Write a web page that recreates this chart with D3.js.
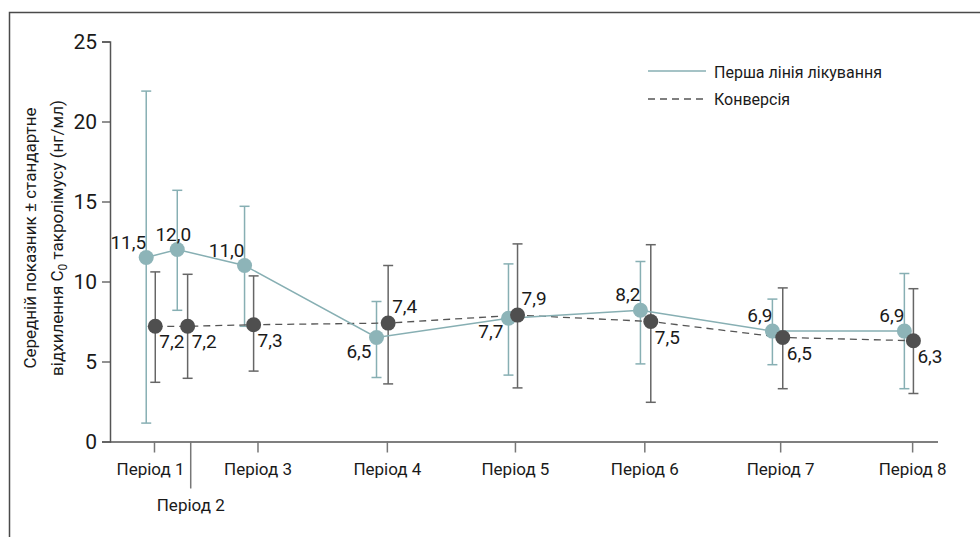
<!DOCTYPE html>
<html>
<head>
<meta charset="utf-8">
<script src="https://cdn.jsdelivr.net/npm/d3@7"></script>
<style>
  html, body { margin: 0; padding: 0; background: #fff; }
  svg { display: block; font-family: Roboto, "Noto Sans", sans-serif; }
</style>
</head>
<body>
<svg id="chart" width="980" height="537"></svg>
<script>
// Periods and their position on the time axis
const periods = ["Період 1", "Період 2", "Період 3", "Період 4", "Період 5", "Період 6", "Період 7", "Період 8"];
const periodTime = [0.34, 0.62, 1.14, 2.14, 3.13, 4.13, 5.18, 6.20];

// Перша лінія лікування: mean and ± SD bounds
const firstLineTime  = [0.28, 0.52, 1.04, 2.06, 3.08, 4.10, 5.12, 6.14];
const firstLineMean  = [11.5, 12.0, 11.0, 6.5, 7.7, 8.2, 6.9, 6.9];
const firstLineUpper = [21.9, 15.7, 14.7, 8.75, 11.1, 11.25, 8.9, 10.5];
const firstLineLower = [1.15, 8.2, 7.2, 4.0, 4.15, 4.85, 4.8, 3.3];

// Конверсія: mean and ± SD bounds
const conversionTime  = [0.35, 0.60, 1.11, 2.15, 3.15, 4.18, 5.20, 6.21];
const conversionMean  = [7.2, 7.2, 7.3, 7.4, 7.9, 7.5, 6.5, 6.3];
const conversionUpper = [10.6, 10.45, 10.35, 11.0, 12.35, 12.3, 9.6, 9.55];
const conversionLower = [3.7, 3.95, 4.4, 3.6, 3.35, 2.45, 3.3, 3.0];

const yTicks = [0, 5, 10, 15, 20, 25];

// which side of the marker each value label sits on
const firstLineLabelSide  = ["up", "upmid", "up", "down", "down", "up", "up", "up"];
const conversionLabelSide = ["down", "down", "down", "up", "up", "down", "down", "down"];

const TEAL = "#87afb3";
const TEAL_DOT = "#8db4b8";
const DARK = "#4f4f4f";
const DARK_BAR = "#666666";
const AXIS = "#555555";
const INK = "#1a1a1a";

const svg = d3.select("#chart");

// outer frame (top and left edges)
svg.append("path")
  .attr("d", "M9.5,537 V12.5 H980")
  .attr("fill", "none")
  .attr("stroke", "#4a4a4a")
  .attr("stroke-width", 1.5);

const x = d3.scaleLinear().domain([0, 6.4]).range([110, 938]);
const y = d3.scaleLinear().domain([0, 25]).range([441.5, 41.5]);

const fmt = v => d3.format(".1f")(v).replace(".", ",");

// Y axis
const yAxis = svg.append("g")
  .attr("transform", `translate(${x(0)},0)`)
  .call(d3.axisLeft(y).tickValues(yTicks).tickSize(8).tickPadding(5).tickFormat(d3.format("d")));
yAxis.select(".domain").attr("stroke", AXIS).attr("stroke-width", 1.5);
yAxis.selectAll(".tick line").attr("stroke", AXIS).attr("stroke-width", 1.3);
yAxis.selectAll(".tick text")
  .attr("fill", INK)
  .style("font-size", "21px")
  .style("font-family", "Roboto, sans-serif");

// X axis
const xAxis = svg.append("g")
  .attr("transform", `translate(0,${y(0)})`)
  .call(d3.axisBottom(x).tickValues(periodTime).tickSize(11).tickPadding(10)
    .tickFormat((d, i) => periods[i]));
xAxis.select(".domain").attr("d", `M${x(0)},0.5H${x(6.4)}`).attr("stroke", AXIS).attr("stroke-width", 1.5);
xAxis.selectAll(".tick line").attr("stroke", "#777").attr("stroke-width", 1.5)
  .attr("y2", (d, i) => i === 1 ? 47 : 11);
xAxis.selectAll(".tick text")
  .attr("fill", INK)
  .style("font-size", "17px")
  .style("font-family", "Roboto, sans-serif")
  .attr("dx", (d, i) => i === 0 ? -4 : 0)
  .attr("y", (d, i) => i === 1 ? 57 : 21);

// Y axis title
const yTitle = svg.append("text")
  .attr("transform", "translate(0,238) rotate(-90)")
  .attr("text-anchor", "middle")
  .attr("fill", INK)
  .style("font-size", "17px");
yTitle.append("tspan").attr("x", 0).attr("y", 36).text("Середній показник ± стандартне");
const l2 = yTitle.append("tspan").attr("x", 0).attr("y", 63);
l2.append("tspan").text("відхилення C");
l2.append("tspan").attr("font-size", "12px").attr("dy", 4).text("0");
l2.append("tspan").attr("dy", -4).text(" такролімусу (нг/мл)");

// series data rows
const firstLine = firstLineMean.map((m, i) => ({
  t: firstLineTime[i], m, hi: firstLineUpper[i], lo: firstLineLower[i], side: firstLineLabelSide[i]
}));
const conversion = conversionMean.map((m, i) => ({
  t: conversionTime[i], m, hi: conversionUpper[i], lo: conversionLower[i], side: conversionLabelSide[i]
}));

function errorBars(data, color) {
  const g = svg.append("g").attr("stroke", color).attr("stroke-width", 1.5).attr("fill", "none");
  data.forEach(d => {
    const cx = x(d.t);
    g.append("line").attr("x1", cx).attr("x2", cx).attr("y1", y(d.hi)).attr("y2", y(d.lo));
    g.append("line").attr("x1", cx - 5).attr("x2", cx + 5).attr("y1", y(d.hi)).attr("y2", y(d.hi));
    g.append("line").attr("x1", cx - 5).attr("x2", cx + 5).attr("y1", y(d.lo)).attr("y2", y(d.lo));
  });
}

errorBars(firstLine, TEAL);
errorBars(conversion, DARK_BAR);

const line = d3.line().x(d => x(d.t)).y(d => y(d.m));

svg.append("path").datum(conversion)
  .attr("d", line).attr("fill", "none")
  .attr("stroke", "#555").attr("stroke-width", 1.3).attr("stroke-dasharray", "7,5");

svg.append("path").datum(firstLine)
  .attr("d", line).attr("fill", "none")
  .attr("stroke", TEAL).attr("stroke-width", 1.5);

svg.append("g").selectAll("circle").data(firstLine).join("circle")
  .attr("cx", d => x(d.t)).attr("cy", d => y(d.m)).attr("r", 7.5).attr("fill", TEAL_DOT);

svg.append("g").selectAll("circle").data(conversion).join("circle")
  .attr("cx", d => x(d.t)).attr("cy", d => y(d.m)).attr("r", 7.5).attr("fill", DARK);

// value labels
svg.append("g").selectAll("text").data(firstLine).join("text")
  .attr("x", d => x(d.t) + (d.side === "up" ? 0 : d.side === "upmid" ? -4 : -5))
  .attr("y", d => y(d.m) + (d.side === "down" ? 20 : -9))
  .attr("text-anchor", d => d.side === "upmid" ? "middle" : "end")
  .attr("fill", INK)
  .style("font-size", "19px")
  .text(d => fmt(d.m));

svg.append("g").selectAll("text").data(conversion).join("text")
  .attr("x", d => x(d.t) + 4)
  .attr("y", d => y(d.m) + (d.side === "up" ? -10 : 22))
  .attr("text-anchor", "start")
  .attr("fill", INK)
  .style("font-size", "19px")
  .text(d => fmt(d.m));

// legend
const legend = svg.append("g").attr("transform", "translate(648,0)");
legend.append("line").attr("x1", 0).attr("x2", 58).attr("y1", 71).attr("y2", 71)
  .attr("stroke", TEAL).attr("stroke-width", 1.5);
legend.append("line").attr("x1", 0).attr("x2", 58).attr("y1", 99).attr("y2", 99)
  .attr("stroke", "#555").attr("stroke-width", 1.3).attr("stroke-dasharray", "7,5");
legend.append("text").attr("x", 66).attr("y", 78).attr("fill", INK)
  .style("font-size", "16px").text("Перша лінія лікування");
legend.append("text").attr("x", 66).attr("y", 105).attr("fill", INK)
  .style("font-size", "16px").text("Конверсія");
</script>
</body>
</html>
